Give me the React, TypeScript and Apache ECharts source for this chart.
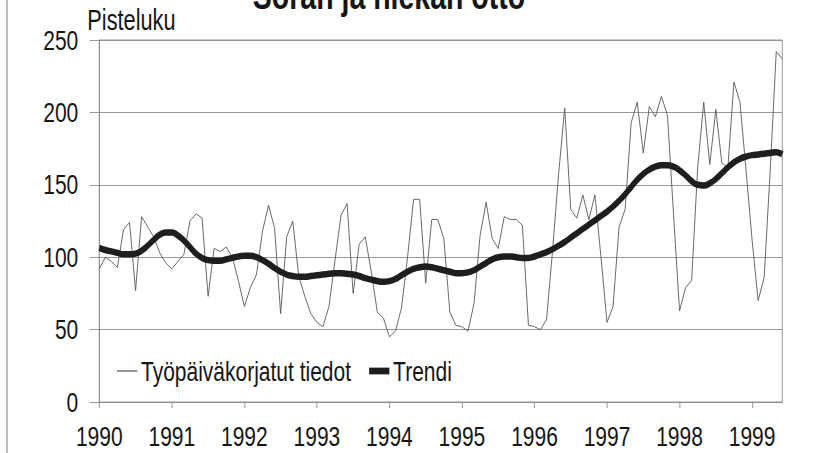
import React, { useEffect, useRef } from "react";
import * as echarts from "echarts";

const years = ["1990", "1991", "1992", "1993", "1994", "1995", "1996", "1997", "1998", "1999"];
const monthsInLastYear = 6;

const workdayAdjusted = [
  92, 100, 97, 93, 119, 124, 77, 128, 121, 114, 103, 96,
  92, 97, 102, 125, 130, 127, 73, 106, 104, 107, 100, 84,
  66, 79, 88, 118, 136, 120, 61, 114, 125, 87, 73, 61,
  55, 52, 66, 98, 129, 137, 75, 109, 114, 90, 62, 58,
  45, 49, 65, 100, 140, 140, 82, 126, 126, 113, 62, 53,
  52, 49, 68, 115, 138, 113, 106, 128, 126, 126, 122, 53,
  52, 50, 57, 105, 158, 203, 133, 127, 143, 126, 143, 100,
  55, 66, 121, 133, 193, 207, 172, 204, 197, 211, 198, 130,
  63, 79, 84, 162, 207, 164, 202, 165, 162, 221, 207, 160,
  112, 70, 86, 160, 242, 237,
];

const trend = [
  106.5, 105, 104, 103, 102, 102, 102.5, 104.5, 108, 112, 115.5, 117,
  117, 115, 111.5, 107, 102.5, 99.5, 98, 97.5, 97.5, 98.5, 99.5, 100.5,
  101, 101, 100, 98, 95.5, 92.5, 90, 88, 87, 86.5, 86.5, 87,
  87.5, 88, 88.5, 89, 89, 88.5, 88, 87, 85.5, 84.5, 83.5, 83,
  83.5, 85, 87.5, 90, 92, 93, 93.5, 93, 92, 91, 90, 89,
  89, 89.5, 91, 93.5, 96, 98.5, 100, 100.5, 100.5, 100, 99.5, 99.5,
  100.5, 102, 103.5, 105.5, 108, 110.5, 113.5, 116.5, 119.5, 122.5, 125.5, 128.5,
  131.5, 135, 139, 143.5, 148.5, 153.5, 157.5, 160.5, 162.5, 163.5, 163.5, 162.5,
  160, 156.5, 152.5, 150, 149.5, 151, 154, 158, 162, 165.5, 168, 169.5,
  170.5, 171, 171.5, 172, 172.5, 171,
];

const yTicks = { min: 0, max: 250, interval: 50 };

const seriesNames = ["Työpäiväkorjatut tiedot", "Trendi"];
const titleText = "Soran ja hiekan otto";
const yAxisName = "Pisteluku";

const FONT = "'Liberation Sans', Arial, Helvetica, sans-serif";
const TEXT = "#161616";
// Narrow-font look: the chart is laid out wider and compressed horizontally.
const SX = 0.75;
const W = 819;
const H = 453;
const IW = Math.round(W / SX);

export default function App() {
  const ref = useRef<HTMLDivElement>(null);

  useEffect(() => {
    document.body.style.margin = "0";
    if (!ref.current) return;
    const chart = echarts.init(ref.current, undefined, { renderer: "svg" });

    const categories: string[] = [];
    years.forEach((y, yi) => {
      const n = yi === years.length - 1 ? monthsInLastYear : 12;
      for (let m = 1; m <= n; m++) categories.push(`${y}-${String(m).padStart(2, "0")}`);
    });

    const gridLeft = 99.3 / SX;
    const gridRight = IW - 782.3 / SX;

    chart.setOption({
      animation: false,
      backgroundColor: "#ffffff",
      textStyle: { fontFamily: FONT, color: TEXT },
      grid: {
        left: gridLeft,
        right: gridRight,
        top: 40,
        bottom: 51,
        show: true,
        borderColor: "#8c8c8c",
        borderWidth: 1,
        containLabel: false,
      },
      graphic: [
        {
          type: "text",
          x: 389 / SX,
          y: -4,
          style: {
            text: titleText,
            font: `bold 38px ${FONT}`,
            fill: TEXT,
            textAlign: "center",
            textVerticalAlign: "middle",
          },
        },
        {
          type: "line",
          shape: { x1: 7 / SX, y1: 0, x2: 7 / SX, y2: H },
          style: { stroke: "#777", lineWidth: 1.3 },
        },
      ],
      legend: {
        left: 117 / SX,
        top: 357,
        padding: 0,
        itemWidth: 27,
        itemHeight: 12,
        itemGap: 24,
        textStyle: { fontFamily: FONT, fontSize: 28, color: TEXT },
        data: [
          { name: seriesNames[0], icon: "path://M0,0L28,0L28,1.3L0,1.3Z" },
          { name: seriesNames[1], icon: "path://M0,0L28,0L28,7L0,7Z" },
        ],
      },
      xAxis: {
        type: "category",
        data: categories,
        boundaryGap: false,
        axisLine: { show: true, lineStyle: { color: "#8c8c8c" } },
        axisTick: {
          show: true,
          interval: (i: number) => i % 12 === 0,
          length: 6,
          lineStyle: { color: "#8c8c8c" },
        },
        axisLabel: {
          interval: (i: number) => i % 12 === 0,
          formatter: (v: string) => v.slice(0, 4),
          fontFamily: FONT,
          fontSize: 28,
          color: TEXT,
          margin: 20,
        },
        splitLine: { show: false },
      },
      yAxis: {
        type: "value",
        min: yTicks.min,
        max: yTicks.max,
        interval: yTicks.interval,
        name: yAxisName,
        nameLocation: "end",
        nameGap: 6,
        nameTextStyle: {
          fontFamily: FONT,
          fontSize: 29,
          color: TEXT,
          align: "left",
          padding: [0, 0, 0, -16],
        },
        axisLine: { show: true, lineStyle: { color: "#8c8c8c" } },
        axisTick: { show: true, length: 13, lineStyle: { color: "#8c8c8c" } },
        axisLabel: { fontFamily: FONT, fontSize: 28, color: TEXT, margin: 28 },
        splitLine: { show: true, lineStyle: { color: "#8c8c8c", width: 1 } },
      },
      series: [
        {
          name: seriesNames[0],
          type: "line",
          data: workdayAdjusted,
          symbol: "none",
          lineStyle: { color: "#555", width: 1 },
          itemStyle: { color: "#555" },
          z: 2,
        },
        {
          name: seriesNames[1],
          type: "line",
          data: trend,
          symbol: "none",
          smooth: true,
          lineStyle: { color: "#1e1e1e", width: 6.5 },
          itemStyle: { color: "#1e1e1e" },
          z: 3,
        },
      ],
    });

    return () => chart.dispose();
  }, []);

  return (
    <div style={{ width: W, height: H, overflow: "hidden", position: "relative" }}>
      <div
        ref={ref}
        style={{ width: IW, height: H, transform: `scaleX(${SX})`, transformOrigin: "0 0" }}
      />
    </div>
  );
}
